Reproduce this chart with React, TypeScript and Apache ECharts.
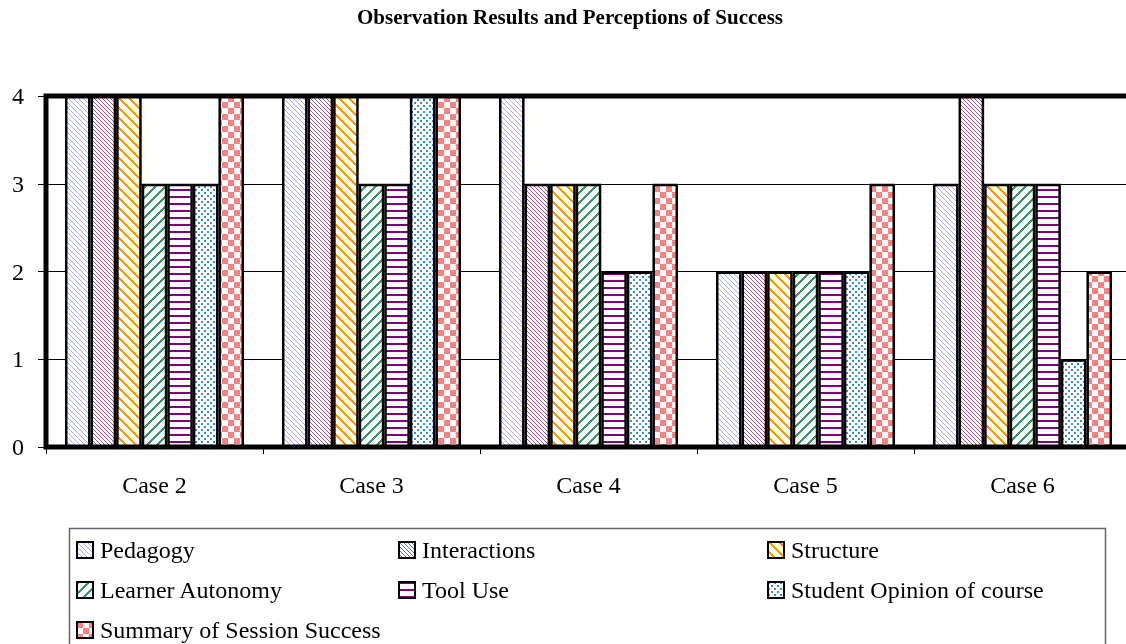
import React, { useEffect, useRef } from "react";
import * as echarts from "echarts";

const categories = ["Case 2", "Case 3", "Case 4", "Case 5", "Case 6"];
const seriesNames = [
  "Pedagogy",
  "Interactions",
  "Structure",
  "Learner Autonomy",
  "Tool Use",
  "Student Opinion of course",
  "Summary of Session Success",
];
const pedagogy = [4, 4, 4, 2, 3];
const interactions = [4, 4, 3, 2, 4];
const structure = [4, 4, 3, 2, 3];
const learnerAutonomy = [3, 3, 3, 2, 3];
const toolUse = [3, 3, 2, 2, 3];
const studentOpinion = [3, 4, 2, 2, 1];
const summary = [4, 4, 3, 3, 2];
const seriesValues = [pedagogy, interactions, structure, learnerAutonomy, toolUse, studentOpinion, summary];
const yTicks = [0, 1, 2, 3, 4];

type RGB = [number, number, number];

function makeTile(w: number, h: number, rgb: RGB, fn: (x: number, y: number) => boolean) {
  const c = document.createElement("canvas");
  c.width = w;
  c.height = h;
  const ctx = c.getContext("2d")!;
  const img = ctx.createImageData(w, h);
  for (let y = 0; y < h; y++) {
    for (let x = 0; x < w; x++) {
      const i = (y * w + x) * 4;
      const on = fn(x, y);
      img.data[i] = on ? rgb[0] : 255;
      img.data[i + 1] = on ? rgb[1] : 255;
      img.data[i + 2] = on ? rgb[2] : 255;
      img.data[i + 3] = 255;
    }
  }
  ctx.putImageData(img, 0, 0);
  return { image: c, repeat: "repeat" };
}

const mod = (a: number, n: number) => ((a % n) + n) % n;

function makePatterns() {
  return [
    makeTile(5, 5, [165, 165, 255], (x, y) => mod(x - y, 5) < 1),
    makeTile(4, 4, [168, 90, 130], (x, y) => mod(x - y, 4) < 1),
    makeTile(10, 10, [255, 153, 0], (x, y) => mod(x - y, 10) < 3),
    makeTile(10, 10, [51, 153, 102], (x, y) => mod(x + y, 10) < 3),
    makeTile(4, 7, [128, 0, 128], (x, y) => y < 2),
    makeTile(6, 6, [51, 140, 230], (x, y) => (x < 2 && y < 2) || (x >= 3 && x < 5 && y >= 3 && y < 5)),
    makeTile(12, 12, [255, 128, 128], (x, y) => (Math.floor(x / 6) + Math.floor(y / 6)) % 2 === 0),
  ];
}

const FONT = "'Liberation Serif', 'Times New Roman', serif";

export default function App() {
  const ref = useRef<HTMLDivElement>(null);
  useEffect(() => {
    document.body.style.overflow = "hidden";
    const chart = echarts.init(ref.current!, null, { renderer: "svg" });
    const patterns = makePatterns();
    const legendText = { fontFamily: FONT, fontSize: 24, color: "#000", lineHeight: 24, padding: [0, 0, 0, 2] };
    const legendCommon = {
      orient: "vertical",
      itemWidth: 16,
      itemHeight: 16,
      itemGap: 16,
      icon: "rect",
      selectedMode: false,
      textStyle: legendText,
    };
    chart.setOption({
      animation: false,
      title: {
        text: "Observation Results and Perceptions of Success",
        left: "center",
        top: 1,
        textStyle: { fontFamily: FONT, fontSize: 21, fontWeight: "bold", color: "#000" },
      },
      grid: {
        left: 46,
        top: 96,
        width: 1085,
        height: 351,
        show: true,
        borderColor: "#000",
        borderWidth: 5,
        backgroundColor: "transparent",
      },
      legend: [
        { ...legendCommon, left: 71, top: 533, data: [seriesNames[0], seriesNames[3]] },
        { ...legendCommon, left: 71, top: 613, data: [seriesNames[6]] },
        { ...legendCommon, left: 393, top: 533, data: [seriesNames[1], seriesNames[4]] },
        { ...legendCommon, left: 762, top: 533, data: [seriesNames[2], seriesNames[5]] },
      ],
      xAxis: {
        type: "category",
        data: categories,
        axisLine: { show: false },
        axisTick: { show: true, length: 7, alignWithLabel: false, lineStyle: { color: "#000", width: 1 } },
        axisLabel: { fontFamily: FONT, fontSize: 24, color: "#000", margin: 26 },
      },
      yAxis: {
        type: "value",
        min: yTicks[0],
        max: yTicks[yTicks.length - 1],
        interval: 1,
        axisLine: { show: false },
        axisTick: { show: true, length: 8, lineStyle: { color: "#000", width: 1 } },
        axisLabel: { fontFamily: FONT, fontSize: 24, color: "#000", margin: 22 },
        splitLine: { show: true, lineStyle: { color: "#000", width: 1 } },
      },
      graphic: [
        {
          type: "rect",
          shape: { x: 69.5, y: 528.5, width: 1036, height: 140 },
          style: { fill: "none", stroke: "#666", lineWidth: 1.5 },
          silent: true,
        },
      ],
      series: seriesNames.map((name, i) => ({
        name,
        type: "bar",
        data: seriesValues[i],
        barGap: "0%",
        barCategoryGap: "17.5%",
        itemStyle: { color: patterns[i], borderColor: "#000", borderWidth: 2.5 },
      })),
    });
    return () => chart.dispose();
  }, []);
  return <div ref={ref} style={{ position: "fixed", left: 0, top: 0, width: 1140, height: 644 }} />;
}
